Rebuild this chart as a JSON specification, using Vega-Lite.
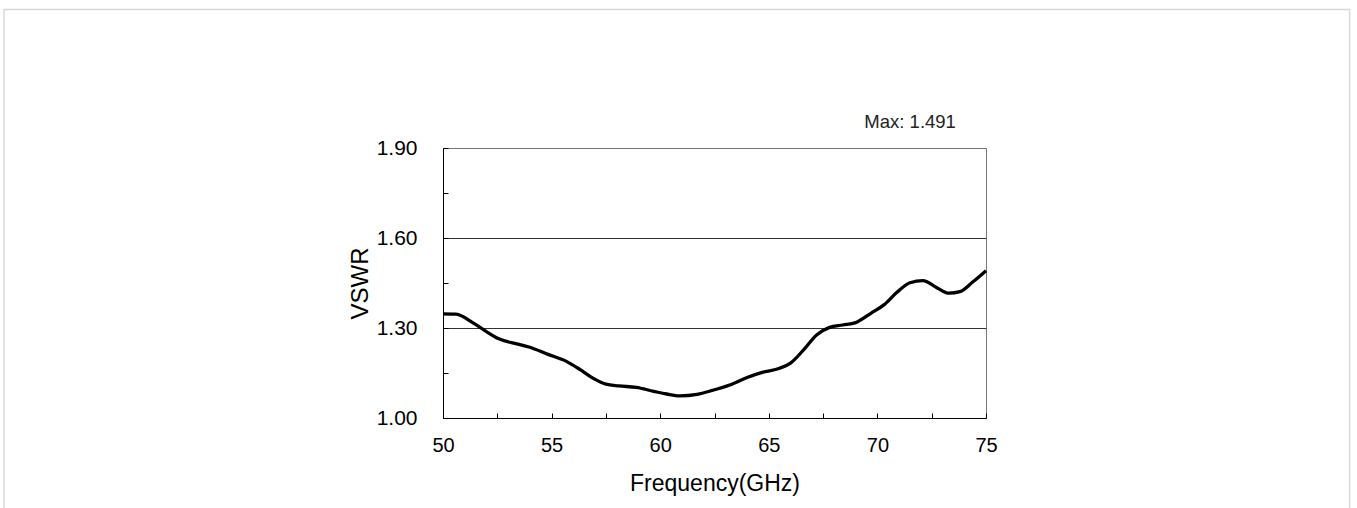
{
  "$schema": "https://vega.github.io/schema/vega-lite/v6.json",
  "autosize": "none",
  "width": 543,
  "height": 270,
  "padding": {"left": 443, "top": 148, "right": 371, "bottom": 90},
  "background": "white",
  "config": {
    "font": "Liberation Sans",
    "view": {"stroke": "#777", "strokeWidth": 1},
    "axis": {"domainColor": "#000", "tickColor": "#000", "labelColor": "#000", "titleColor": "#000", "titleFontWeight": "normal", "labelFont": "Liberation Sans", "titleFont": "Liberation Sans"}
  },
  "layer": [
    {
      "data": {"values": [{"x1": 29.79, "x2": 91.74, "y1": 2.362, "y2": 0.5}]},
      "mark": {"type": "rect", "fill": null, "stroke": "#d9d9d9", "strokeWidth": 1.5},
      "encoding": {
        "x": {"field": "x1", "type": "quantitative", "scale": {"domain": [50, 75], "nice": false, "zero": false}},
        "x2": {"field": "x2"},
        "y": {"field": "y1", "type": "quantitative", "scale": {"domain": [1.0, 1.9], "nice": false, "zero": false}},
        "y2": {"field": "y2"}
      }
    },
    {
      "data": {"values": [
        {"f": 50.0, "v": 1.347},
        {"f": 50.6, "v": 1.346},
        {"f": 51.4, "v": 1.316},
        {"f": 52.0, "v": 1.288},
        {"f": 52.6, "v": 1.263},
        {"f": 53.4, "v": 1.247},
        {"f": 54.0, "v": 1.236},
        {"f": 54.8, "v": 1.213},
        {"f": 55.7, "v": 1.188},
        {"f": 56.3, "v": 1.162},
        {"f": 56.9, "v": 1.133},
        {"f": 57.5, "v": 1.113},
        {"f": 58.1, "v": 1.107},
        {"f": 58.9, "v": 1.102},
        {"f": 59.7, "v": 1.089},
        {"f": 60.3, "v": 1.080},
        {"f": 60.9, "v": 1.074},
        {"f": 61.7, "v": 1.079},
        {"f": 62.4, "v": 1.092},
        {"f": 63.2, "v": 1.110},
        {"f": 64.0, "v": 1.135},
        {"f": 64.7, "v": 1.152},
        {"f": 65.5, "v": 1.166},
        {"f": 66.0, "v": 1.183},
        {"f": 66.6, "v": 1.227},
        {"f": 67.2, "v": 1.277},
        {"f": 67.8, "v": 1.302},
        {"f": 68.4, "v": 1.310},
        {"f": 69.0, "v": 1.318},
        {"f": 69.7, "v": 1.349},
        {"f": 70.3, "v": 1.377},
        {"f": 70.9, "v": 1.419},
        {"f": 71.5, "v": 1.451},
        {"f": 72.1, "v": 1.458},
        {"f": 72.7, "v": 1.436},
        {"f": 73.3, "v": 1.416},
        {"f": 73.8, "v": 1.421},
        {"f": 74.4, "v": 1.454},
        {"f": 75.0, "v": 1.491}
      ]},
      "mark": {"type": "line", "color": "#000", "strokeWidth": 3.3, "interpolate": "monotone"},
      "encoding": {
        "x": {"field": "f", "type": "quantitative",
          "scale": {"domain": [50, 75], "nice": false, "zero": false},
          "axis": {"title": "Frequency(GHz)", "values": [50, 52.5, 55, 57.5, 60, 62.5, 65, 67.5, 70, 72.5, 75],
            "labelExpr": "datum.value % 5 == 0 ? format(datum.value, 'd') : ''",
            "tickSize": -5, "labelPadding": 22, "labelFontSize": 20, "titleFontSize": 23, "titlePadding": 17, "grid": false, "labelFlush": false, "labelOverlap": false}},
        "y": {"field": "v", "type": "quantitative",
          "scale": {"domain": [1.0, 1.9], "nice": false, "zero": false},
          "axis": {"title": "VSWR", "values": [1.0, 1.15, 1.3, 1.45, 1.6, 1.75, 1.9],
            "labelExpr": "abs(datum.value - 1.0) < 0.001 || abs(datum.value - 1.3) < 0.001 || abs(datum.value - 1.6) < 0.001 || abs(datum.value - 1.9) < 0.001 ? format(datum.value, '.2f') : ''",
            "tickSize": -5, "labelPadding": 31, "labelFontSize": 21, "titleFontSize": 24, "titlePadding": 4, "labelFlush": false, "labelOverlap": false,
            "grid": true, "gridColor": "#333", "gridWidth": 1,
            "gridOpacity": {"condition": {"test": "abs(datum.value - 1.3) < 0.001 || abs(datum.value - 1.6) < 0.001", "value": 1}, "value": 0}}}
      }
    },
    {
      "data": {"values": [{"label": "Max: 1.491", "f": 69.4, "v": 1.988}]},
      "mark": {"type": "text", "align": "left", "baseline": "middle", "fontSize": 18.5, "color": "#222", "font": "Liberation Sans"},
      "encoding": {
        "text": {"field": "label"},
        "x": {"field": "f", "type": "quantitative"},
        "y": {"field": "v", "type": "quantitative"}
      }
    }
  ]
}
